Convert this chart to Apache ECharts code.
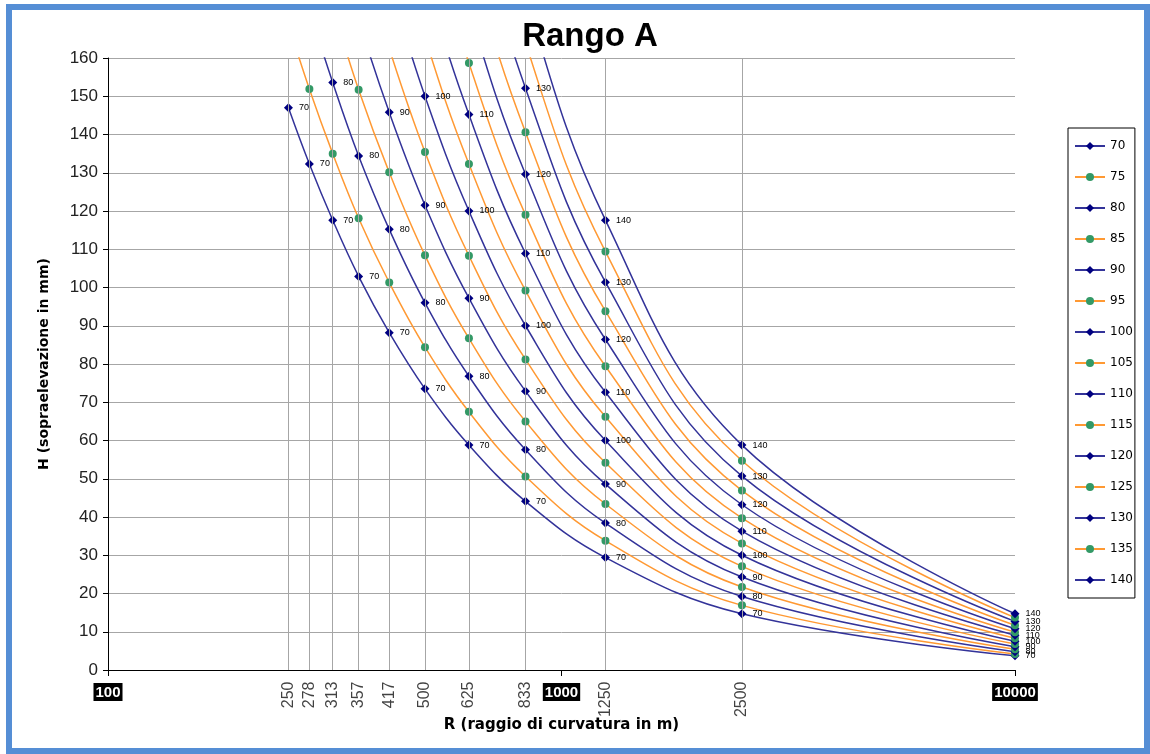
<!DOCTYPE html>
<html>
<head>
<meta charset="utf-8">
<script src="https://cdn.jsdelivr.net/npm/echarts@6/dist/echarts.min.js"></script>
<style>
  html, body { margin: 0; padding: 0; background: #fff; }
  #frame { position: absolute; left: 6px; top: 4px; width: 1144px; height: 750px; border: 6px solid #558ED5; box-sizing: border-box; }
  #chart { position: absolute; left: 0; top: 0; width: 1150px; height: 754px; }
</style>
</head>
<body>
<div id="frame"></div>
<div id="chart"></div>
<script>
// raggio di curvatura (m)
const radii = [250, 278, 313, 357, 417, 500, 625, 833, 1250, 2500, 10000];
const speeds = ["70", "75", "80", "85", "90", "95", "100", "105", "110", "115", "120", "125", "130", "135", "140"];

// sopraelevazione H (mm), one array per speed, read at each radius
const h70 = [147, 132.3, 117.6, 102.9, 88.2, 73.5, 58.8, 44.1, 29.4, 14.7, 3.7];
const h75 = [168.8, 151.9, 135.0, 118.1, 101.3, 84.4, 67.5, 50.6, 33.8, 16.9, 4.2];
const h80 = [192, 172.8, 153.6, 134.4, 115.2, 96, 76.8, 57.6, 38.4, 19.2, 4.8];
const h85 = [216.8, 195.1, 173.4, 151.7, 130.1, 108.4, 86.7, 65.0, 43.4, 21.7, 5.4];
const h90 = [243, 218.7, 194.4, 170.1, 145.8, 121.5, 97.2, 72.9, 48.6, 24.3, 6.1];
const h95 = [270.8, 243.7, 216.6, 189.5, 162.5, 135.4, 108.3, 81.2, 54.2, 27.1, 6.8];
const h100 = [300, 270, 240, 210, 180, 150, 120, 90, 60, 30, 7.5];
const h105 = [330.8, 297.7, 264.6, 231.5, 198.5, 165.4, 132.3, 99.2, 66.2, 33.1, 8.3];
const h110 = [363, 326.7, 290.4, 254.1, 217.8, 181.5, 145.2, 108.9, 72.6, 36.3, 9.1];
const h115 = [396.8, 357.1, 317.4, 277.7, 238.1, 198.4, 158.7, 119.0, 79.4, 39.7, 9.9];
const h120 = [432, 388.8, 345.6, 302.4, 259.2, 216, 172.8, 129.6, 86.4, 43.2, 10.8];
const h125 = [468.8, 421.9, 375, 328.1, 281.3, 234.4, 187.5, 140.6, 93.8, 46.9, 11.7];
const h130 = [507, 456.3, 405.6, 354.9, 304.2, 253.5, 202.8, 152.1, 101.4, 50.7, 12.7];
const h135 = [546.8, 492.1, 437.4, 382.7, 328.1, 273.4, 218.7, 164.0, 109.4, 54.7, 13.7];
const h140 = [588, 529.2, 470.4, 411.6, 352.8, 294, 235.2, 176.4, 117.6, 58.8, 14.7];

const heights = [h70, h75, h80, h85, h90, h95, h100, h105, h110, h115, h120, h125, h130, h135, h140];
const gridRadii = [250, 278, 313, 357, 417, 500, 625, 833, 1250, 2500];

const BLUE_LINE = "#333399";
const BLUE_MARK = "#000080";
const ORANGE_LINE = "#FF9933";
const GREEN_MARK = "#339966";

const chart = echarts.init(document.getElementById("chart"));

const lineSeries = speeds.map((name, i) => {
  const even = i % 2 === 0;
  return {
    name: name,
    type: "line",
    z: 3,
    clip: true,
    smooth: 0.4,
    symbol: even ? "diamond" : "circle",
    symbolSize: even ? 9 : 8,
    showAllSymbol: true,
    lineStyle: { color: even ? BLUE_LINE : ORANGE_LINE, width: 1.5 },
    itemStyle: { color: even ? BLUE_MARK : GREEN_MARK },
    label: {
      show: even,
      position: "right",
      distance: 6,
      formatter: name,
      fontSize: 9,
      fontFamily: "Liberation Sans",
      color: "#000"
    },
    emphasis: { disabled: true },
    data: radii.map((r, k) => [r, heights[i][k]])
  };
});

// helper: vertical grid lines and the rotated radius labels under the axis
const helper = {
  name: "raggi",
  type: "scatter",
  clip: false,
  silent: true,
  symbolSize: 1,
  itemStyle: { color: "rgba(0,0,0,0)" },
  label: {
    show: true,
    position: "bottom",
    distance: 11,
    rotate: 90,
    align: "right",
    verticalAlign: "middle",
    formatter: (p) => String(p.value[0]),
    fontSize: 16,
    fontFamily: "Liberation Sans",
    color: "#111"
  },
  data: gridRadii.map((r) => [r, 0]),
  markLine: {
    silent: true,
    symbol: "none",
    label: { show: false },
    lineStyle: { color: "#A6A6A6", width: 1, type: "solid" },
    emphasis: { disabled: true },
    data: gridRadii.map((r) => ({ xAxis: r }))
  },
  z: 1
};

chart.setOption({
  animation: false,
  backgroundColor: "transparent",
  title: {
    text: "Rango A",
    left: 585,
    top: 15,
    textAlign: "center",
    textStyle: { fontFamily: "Liberation Sans", fontWeight: "bold", fontSize: 33, color: "#000" }
  },
  legend: {
    data: speeds,
    orient: "vertical",
    left: 1068,
    top: 128,
    width: 65,
    padding: [12, 2, 12, 6],
    itemGap: 19,
    itemWidth: 30,
    itemHeight: 10,
    borderColor: "#000",
    borderWidth: 1,
    textStyle: { fontFamily: "DejaVu Sans", fontSize: 12, color: "#000" },
    selectedMode: false
  },
  grid: { left: 108, right: 135, top: 58, bottom: 84, containLabel: false },
  xAxis: {
    type: "log",
    logBase: 10,
    min: 100,
    max: 10000,
    name: "R (raggio di curvatura in m)",
    nameLocation: "middle",
    nameGap: 48,
    nameTextStyle: { fontFamily: "DejaVu Sans", fontWeight: "bold", fontSize: 15, color: "#000" },
    axisLine: { show: true, lineStyle: { color: "#000", width: 1 } },
    axisTick: { show: true, length: 6, lineStyle: { color: "#000" } },
    minorTick: { show: false },
    splitLine: { show: false },
    axisLabel: {
      margin: 13,
      formatter: (v) => String(v),
      fontFamily: "Liberation Sans",
      fontWeight: "bold",
      fontSize: 15,
      color: "#fff",
      backgroundColor: "#000",
      padding: [2, 2, 1, 2]
    }
  },
  yAxis: {
    type: "value",
    min: 0,
    max: 160,
    interval: 10,
    name: "H (sopraelevazione in mm)",
    nameLocation: "middle",
    nameGap: 57,
    nameTextStyle: { fontFamily: "DejaVu Sans", fontWeight: "bold", fontSize: 14, color: "#000" },
    axisLine: { show: true, lineStyle: { color: "#000", width: 1 } },
    axisTick: { show: true, length: 5, lineStyle: { color: "#000" } },
    splitLine: { show: true, lineStyle: { color: "#A6A6A6", width: 1 } },
    axisLabel: { margin: 10, fontFamily: "Liberation Sans", fontSize: 17, color: "#222" }
  },
  series: [helper].concat(lineSeries)
});
</script>
</body>
</html>
